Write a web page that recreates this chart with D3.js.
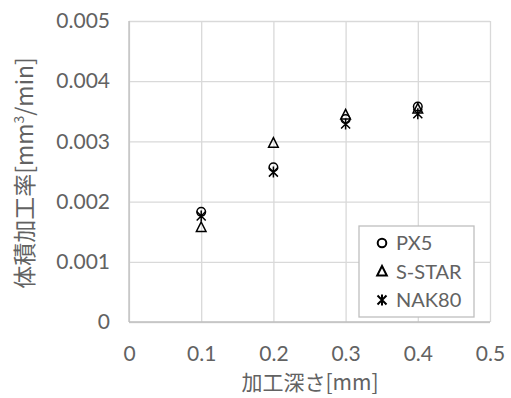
<!DOCTYPE html>
<html>
<head>
<meta charset="utf-8">
<script src="https://cdn.jsdelivr.net/npm/d3@7"></script>
<style>
  body { margin: 0; background: #fff; }
  svg { display: block; }
</style>
</head>
<body>
<svg id="chart" width="511" height="398"></svg>
<script>
// data
const depths = [0.1, 0.2, 0.3, 0.4];
const px5 = [0.00183, 0.00257, 0.00337, 0.00358];
const sStar = [0.00157, 0.00297, 0.00344, 0.00354];
const nak80 = [0.00176, 0.00249, 0.00329, 0.00346];
const xTicks = [0, 0.1, 0.2, 0.3, 0.4, 0.5];
const yTicks = [0, 0.001, 0.002, 0.003, 0.004, 0.005];
const seriesNames = ['PX5', 'S-STAR', 'NAK80'];

const svg = d3.select('#chart');
const margin = { top: 21, right: 21, bottom: 76, left: 129 };
const width = 511, height = 398;
const innerW = width - margin.left - margin.right;
const innerH = height - margin.top - margin.bottom;

const g = svg.append('g').attr('transform', `translate(${margin.left},${margin.top})`);

const x = d3.scaleLinear().domain([0, 0.5]).range([0, innerW]);
const y = d3.scaleLinear().domain([0, 0.005]).range([innerH, 0]);

const labelFont = 'Lato, "Open Sans", sans-serif';
const textColor = '#626262';

// grid
g.append('g')
    .call(d3.axisLeft(y).tickValues(yTicks).tickSize(-innerW).tickFormat(() => ''))
    .call(g => g.select('.domain').remove())
    .call(g => g.selectAll('line').attr('stroke', '#d9d9d9').attr('stroke-width', 1.3));
g.append('g')
    .attr('transform', `translate(0,${innerH})`)
    .call(d3.axisBottom(x).tickValues(xTicks).tickSize(-innerH).tickFormat(() => ''))
    .call(g => g.select('.domain').remove())
    .call(g => g.selectAll('line').attr('stroke', '#d9d9d9').attr('stroke-width', 1.3));

// axis lines
g.append('line').attr('x1', 0).attr('x2', 0).attr('y1', 0).attr('y2', innerH)
    .attr('stroke', '#bfbfbf').attr('stroke-width', 1.3);
g.append('line').attr('x1', 0).attr('x2', innerW).attr('y1', innerH).attr('y2', innerH)
    .attr('stroke', '#bfbfbf').attr('stroke-width', 1.3);

// tick labels
g.append('g')
    .call(d3.axisLeft(y).tickValues(yTicks).tickSize(0).tickPadding(19)
        .tickFormat(d => d === 0 ? '0' : d3.format('.3f')(d)))
    .call(g => g.select('.domain').remove())
    .selectAll('text')
    .attr('fill', textColor)
    .attr('font-family', labelFont)
    .attr('font-size', '21px');

g.append('g')
    .attr('transform', `translate(0,${innerH})`)
    .call(d3.axisBottom(x).tickValues(xTicks).tickSize(0).tickPadding(24)
        .tickFormat(d => d === 0 ? '0' : d3.format('.1f')(d)))
    .call(g => g.select('.domain').remove())
    .selectAll('text')
    .attr('fill', textColor)
    .attr('font-family', labelFont)
    .attr('font-size', '21px');

// axis titles
const cjkFont = '"Noto Sans CJK JP", sans-serif';
svg.append('text')
    .attr('x', 310)
    .attr('y', 390)
    .attr('text-anchor', 'middle')
    .attr('fill', textColor)
    .attr('font-family', cjkFont)
    .attr('font-size', '21px')
    .text('加工深さ[mm]');

const yTitle = svg.append('text')
    .attr('transform', `translate(33,173) rotate(-90)`)
    .attr('text-anchor', 'middle')
    .attr('fill', textColor)
    .attr('font-family', cjkFont)
    .attr('font-size', '23px');
yTitle.append('tspan').text('体積加工率[mm');
yTitle.append('tspan').attr('font-size', '14px').attr('dy', -9).text('3');
yTitle.append('tspan').attr('dy', 9).text('/min]');

// markers
function drawMarker(sel, kind, sw) {
    if (kind === 0) {
        sel.append('circle').attr('r', 4.3)
            .attr('fill', 'none').attr('stroke', '#000').attr('stroke-width', sw);
    } else if (kind === 1) {
        sel.append('path').attr('d', 'M0,-5.5L4.8,4L-4.8,4Z')
            .attr('fill', 'none').attr('stroke', '#000').attr('stroke-width', sw);
    } else {
        sel.append('path').attr('d', 'M-4.5,-4.5L4.5,4.5M4.5,-4.5L-4.5,4.5M0,-5.5L0,5.5')
            .attr('fill', 'none').attr('stroke', '#000').attr('stroke-width', sw);
    }
}

const allSeries = [px5, sStar, nak80];
allSeries.forEach((vals, i) => {
    const pts = g.append('g').selectAll('g')
        .data(depths.map((d, j) => ({ x: d, y: vals[j] })))
        .join('g')
        .attr('transform', d => `translate(${x(d.x)},${y(d.y)})`);
    drawMarker(pts, i, 1.5);
});

// legend
const legend = svg.append('g').attr('transform', 'translate(359,226)');
legend.append('rect')
    .attr('width', 115).attr('height', 91)
    .attr('fill', '#fff').attr('stroke', '#bfbfbf').attr('stroke-width', 1.3);
seriesNames.forEach((name, i) => {
    const row = legend.append('g').attr('transform', `translate(23,${17 + i * 28.5})`);
    drawMarker(row, i, 2);
    row.append('text')
        .attr('x', 14).attr('y', 7)
        .attr('fill', textColor)
        .attr('font-family', labelFont)
        .attr('font-size', '20px')
        .text(name);
});
</script>
</body>
</html>
